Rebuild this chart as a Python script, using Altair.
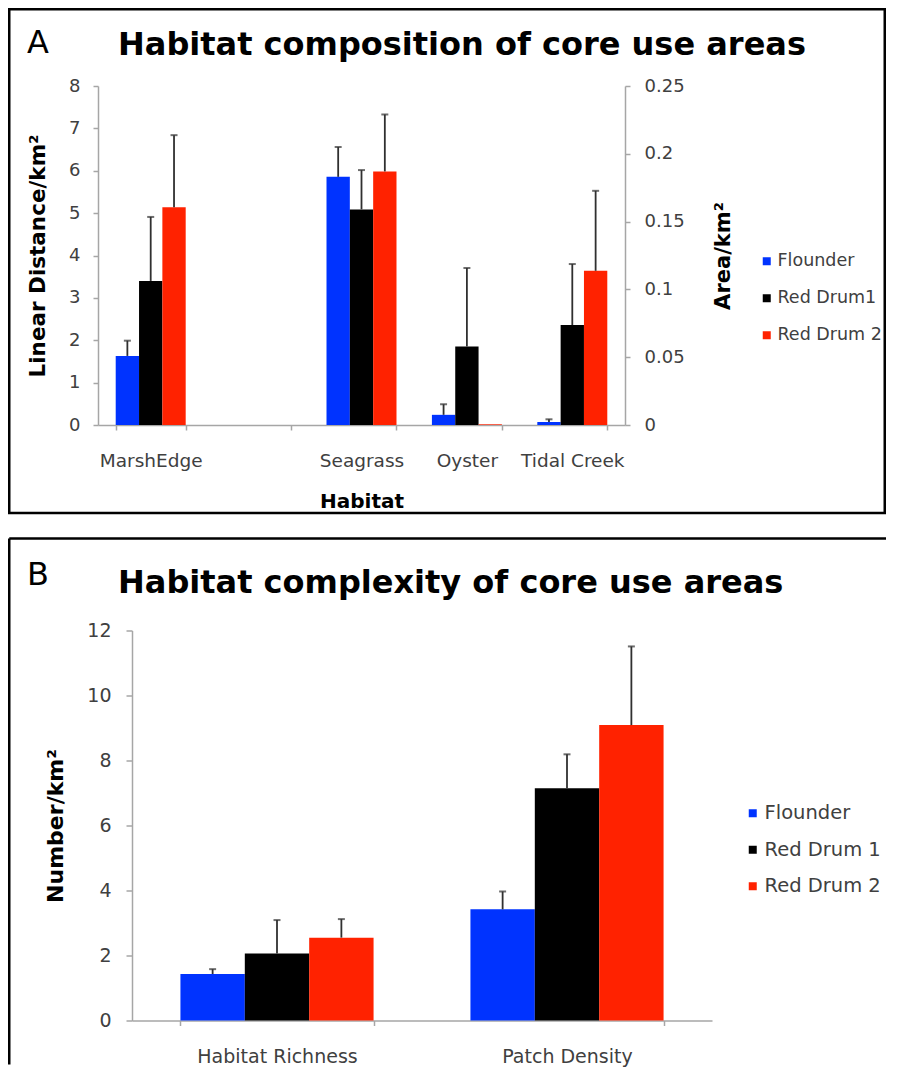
import altair as alt
import pandas as pd

FONT = "DejaVu Sans"
AXIS_GRAY = "#a6a6a6"
LABEL_GRAY = "#404040"
ERR_COLOR = "#303030"

# ---------------- Panel A data ----------------
habitat_order = ["MarshEdge", " ", "Seagrass", "Oyster", "Tidal Creek"]
series_a = ["Flounder", "Red Drum1", "Red Drum 2"]
colors = ["#0033FF", "#000000", "#FF2200"]

# MarshEdge: linear distance per km2 (left axis)
marsh_mean = [1.63, 3.40, 5.14]
marsh_err = [0.36, 1.51, 1.70]

# Area habitats: area per km2 (right axis)
area_habitats = ["Seagrass", "Oyster", "Tidal Creek"]
flounder_area = [0.183, 0.0075, 0.0022]
flounder_area_err = [0.022, 0.0078, 0.0020]
drum1_area = [0.159, 0.0578, 0.0737]
drum1_area_err = [0.029, 0.058, 0.045]
drum2_area = [0.187, 0.0005, 0.1137]
drum2_area_err = [0.042, 0.0, 0.059]

left_ticks = [0, 1, 2, 3, 4, 5, 6, 7, 8]
right_ticks = [0, 0.05, 0.1, 0.15, 0.2, 0.25]

# ---------------- Panel B data ----------------
metrics = ["Habitat Richness", "Patch Density"]
series_b = ["Flounder", "Red Drum 1", "Red Drum 2"]
flounder_b = [1.43, 3.42]
flounder_b_err = [0.15, 0.55]
drum1_b = [2.06, 7.15]
drum1_b_err = [1.03, 1.04]
drum2_b = [2.55, 9.09]
drum2_b_err = [0.57, 2.42]
b_ticks = [0, 2, 4, 6, 8, 10, 12]

panel_letters = ["A", "B"]
panel_titles = ["Habitat composition of core use areas",
                "Habitat complexity of core use areas"]

# ---------------- tables ----------------
marsh_df = pd.DataFrame({"habitat": ["MarshEdge"] * 3, "series": series_a,
                         "value": marsh_mean, "err": marsh_err})
rows = []
for s, vals, errs in zip(series_a, [flounder_area, drum1_area, drum2_area],
                         [flounder_area_err, drum1_area_err, drum2_area_err]):
    for h, v, e in zip(area_habitats, vals, errs):
        rows.append({"habitat": h, "series": s, "value": v, "err": e})
area_df = pd.DataFrame(rows)

rows = []
for s, vals, errs in zip(series_b, [flounder_b, drum1_b, drum2_b],
                         [flounder_b_err, drum1_b_err, drum2_b_err]):
    for m, v, e in zip(metrics, vals, errs):
        rows.append({"habitat": m, "series": s, "value": v, "err": e})
b_df = pd.DataFrame(rows)


def axis_common(**kw):
    base = dict(grid=False, domainColor=AXIS_GRAY, domainWidth=1.5,
                tickColor=AXIS_GRAY, tickWidth=1.5, tickSize=5,
                labelFont=FONT, labelColor=LABEL_GRAY,
                titleFont=FONT, titleFontWeight="bold", titleColor="black")
    base.update(kw)
    return alt.Axis(**base)


def bars_and_errors(df, x, series, y_scale, y_axis, legend):
    xo = alt.XOffset("series:N", scale=alt.Scale(domain=series, paddingInner=0, paddingOuter=0))
    base = alt.Chart(df)
    bars = base.mark_bar(strokeWidth=0).encode(
        x=x, xOffset=xo,
        y=alt.Y("value:Q", scale=y_scale, axis=y_axis),
        color=alt.Color("series:N", scale=alt.Scale(domain=series, range=colors), legend=legend),
    )
    err = base.transform_filter("datum.err > 0").transform_calculate(hi="datum.value + datum.err")
    rule = err.mark_rule(color=ERR_COLOR, strokeWidth=1.8).encode(
        x=x, xOffset=xo, y=alt.Y("value:Q", scale=y_scale, axis=y_axis), y2="hi:Q")
    cap = err.mark_tick(color=ERR_COLOR, size=7, thickness=2).encode(
        x=x, xOffset=xo, y=alt.Y("hi:Q", scale=y_scale, axis=y_axis))
    return alt.layer(bars, rule, cap)


def legend_for(lx, ly, fs, row_pad):
    return alt.Legend(orient="none", legendX=lx, legendY=ly, title=None,
                      symbolType="square", symbolSize=64, symbolStrokeWidth=0,
                      labelFont=FONT, labelFontSize=fs, labelColor=LABEL_GRAY,
                      labelOffset=2, rowPadding=row_pad, padding=0)


# ---------------- Panel A ----------------
WA, HA = 527, 339
xa = alt.X("habitat:N",
           scale=alt.Scale(domain=habitat_order, paddingInner=0.336, paddingOuter=0.168),
           axis=axis_common(title="Habitat", labelAngle=0, tickBand="extent",
                            labelFontSize=18.5, labelPadding=21,
                            titleFontSize=20, titlePadding=22))
y_left_axis = axis_common(title="Linear Distance/km²", values=left_ticks,
                          labelFontSize=18, labelPadding=13,
                          titleFontSize=21.5, titlePadding=19)
y_right_axis = axis_common(title="Area/km²", values=right_ticks, orient="right", format="~g",
                           labelFontSize=18, labelPadding=14,
                           titleFontSize=21, titlePadding=28, titleAngle=-90,
                           titleBaseline="top")
leg_a = legend_for(660, 166.5, 17.5, 18)

marsh_layer = bars_and_errors(marsh_df, xa, series_a, alt.Scale(domain=[0, 8]), y_left_axis, leg_a)
area_layer = bars_and_errors(area_df, xa, series_a, alt.Scale(domain=[0, 0.25]), y_right_axis, leg_a)

deco_a = alt.Chart(pd.DataFrame({"letter": [panel_letters[0]], "title": [panel_titles[0]]}))
frame_a = deco_a.mark_rect(fillOpacity=0, stroke="black", strokeWidth=2.5).encode(
    x=alt.value(-88.75), x2=alt.value(786.75), y=alt.value(-76.75), y2=alt.value(427))
letter_a = deco_a.mark_text(align="left", baseline="alphabetic", font=FONT, fontSize=32,
                            color="black").encode(text="letter:N", x=alt.value(-71), y=alt.value(-33))
title_a = deco_a.mark_text(align="left", baseline="alphabetic", font=FONT, fontSize=32,
                           fontWeight="bold", color="black").encode(
    text="title:N", x=alt.value(20), y=alt.value(-31))

chart_a = alt.layer(frame_a, letter_a, title_a, marsh_layer, area_layer).resolve_scale(
    y="independent").properties(width=WA, height=HA)

# ---------------- Panel B ----------------
# the view starts at the same x as panel A; the axis sits 34px inside it
WB, HB = 614, 390
B_INSET = 34
xb = alt.X("habitat:N",
           scale=alt.Scale(domain=metrics, paddingInner=0.334, paddingOuter=0.167,
                           range=[B_INSET, WB]),
           axis=axis_common(title=None, labelAngle=0, tickBand="extent",
                            labelFontSize=19, labelPadding=22))
y_b_axis = axis_common(title="Number/km²", values=b_ticks, offset=-B_INSET,
                       labelFontSize=19, labelPadding=15, tickSize=6,
                       titleFontSize=22, titlePadding=19)
leg_b = legend_for(645, 173, 19.5, 15.5)
bars_b = bars_and_errors(b_df, xb, series_b, alt.Scale(domain=[0, 12]), y_b_axis, leg_b)

deco_b = alt.Chart(pd.DataFrame({"letter": [panel_letters[1]], "title": [panel_titles[1]]}))
top_b = deco_b.mark_rule(color="black", strokeWidth=2.5).encode(
    x=alt.value(-88.75), x2=alt.value(788), y=alt.value(-92))
left_b = deco_b.mark_rule(color="black", strokeWidth=2.5).encode(
    x=alt.value(-88.75), y=alt.value(-92), y2=alt.value(434))
letter_b = deco_b.mark_text(align="left", baseline="alphabetic", font=FONT, fontSize=32,
                            color="black").encode(text="letter:N", x=alt.value(-71), y=alt.value(-46))
title_b = deco_b.mark_text(align="left", baseline="alphabetic", font=FONT, fontSize=32,
                           fontWeight="bold", color="black").encode(
    text="title:N", x=alt.value(20), y=alt.value(-38))

chart_b = alt.layer(top_b, left_b, letter_b, title_b, bars_b).properties(width=WB, height=HB)

chart = alt.vconcat(chart_a, chart_b, spacing=21.5).resolve_scale(
    color="independent", x="independent", y="independent", xOffset="independent"
).properties(padding=0).configure(font=FONT).configure_view(stroke="transparent", strokeWidth=0)

chart.save("out.html", embed_options={"renderer": "svg", "actions": False})
